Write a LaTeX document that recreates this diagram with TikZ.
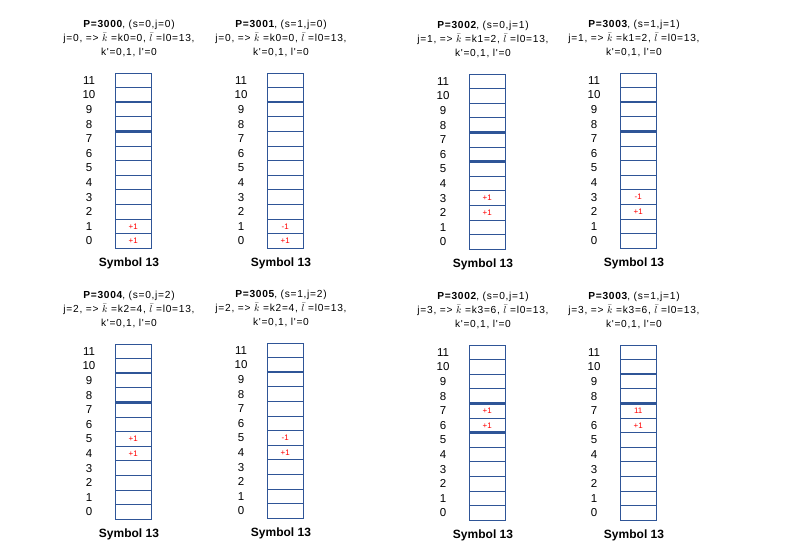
\documentclass[tikz,border=0pt]{standalone}
\usepackage{fontspec}
\setmainfont{Liberation Sans}
\newfontfamily\headfont{Liberation Sans}[LetterSpace=7]
\usetikzlibrary{positioning}
\definecolor{cellBlue}{HTML}{2F5597}
\definecolor{markRed}{HTML}{FF0000}
\tikzset{
  cellrow/.style={draw=cellBlue, line width=0.9pt, minimum width=36.5pt, minimum height=14.6pt, inner sep=0pt, outer sep=0pt},
  cellmark/.style={text=markRed, font=\fontsize{8}{9}\selectfont, inner sep=0pt},
  rowlabel/.style={font=\fontsize{11.5}{12}\selectfont, inner sep=0pt},
  headtext/.style={font=\headfont\fontsize{10.2}{14}\selectfont, align=center, inner sep=0pt},
  symtext/.style={font=\bfseries\fontsize{12}{14}\selectfont, inner sep=0pt},
  boundary/.style={cellBlue, line width=2.4pt}
}
% one column of symbol 13: #1 name, #2 P, #3 s, #4 j (title), #5 j, #6 k index, #7 k value,
% #8 thick boundaries, #9 marked cells
\newcommand{\symcol}[9]{%
  \foreach \row in {0,...,11} {
    \node[cellrow] (#1-\row) at (18.25, {-(11.5-\row)*14.6}) {};
    \node[rowlabel] (#1-n\row) at ([xshift=-26pt]#1-\row.west) {\row};
  }
  \foreach \b in {#8}
    \draw[boundary] (#1-\b.south west) -- (#1-\b.south east);
  \foreach \row/\txt in {#9}
    \node[cellmark] (#1-m\row) at (#1-\row) {\txt};
  \node[headtext] (#1-head) at (14, 35)
    {\textbf{P=#2}, (s=#3,j=#4)\\ j=#5, => $\bar{k}$ =k#6=#7, $\bar{l}$ =l0=13,\\ k'=0,1, l'=0};
  \node[symtext] (#1-sym) at (14, -190) {Symbol 13};
}

\begin{document}
\begin{tikzpicture}[x=1pt, y=1pt]
  \useasboundingbox (0,0) rectangle (785,-556);

  % top row
  \begin{scope}[shift={(115,-73)}]
    \symcol{colA}{3000}{0}{0}{0}{0}{0}{10,8}{0/+1,1/+1}
  \end{scope}
  \begin{scope}[shift={(267,-73)}]
    \symcol{colB}{3001}{1}{0}{0}{0}{0}{10}{0/+1,1/-1}
  \end{scope}
  \begin{scope}[shift={(469,-74)}]
    \symcol{colC}{3002}{0}{1}{1}{1}{2}{8,6}{2/+1,3/+1}
  \end{scope}
  \begin{scope}[shift={(620,-73)}]
    \symcol{colD}{3003}{1}{1}{1}{1}{2}{10,8}{2/+1,3/-1}
  \end{scope}

  % bottom row
  \begin{scope}[shift={(115,-344)}]
    \symcol{colE}{3004}{0}{2}{2}{2}{4}{10,8}{4/+1,5/+1}
  \end{scope}
  \begin{scope}[shift={(267,-343)}]
    \symcol{colF}{3005}{1}{2}{2}{2}{4}{10}{4/+1,5/-1}
  \end{scope}
  \begin{scope}[shift={(469,-345)}]
    \symcol{colG}{3002}{0}{1}{3}{3}{6}{8,6}{6/+1,7/+1}
  \end{scope}
  \begin{scope}[shift={(620,-345)}]
    \symcol{colH}{3003}{1}{1}{3}{3}{6}{10,8}{6/+1,7/11}
  \end{scope}
\end{tikzpicture}
\end{document}
